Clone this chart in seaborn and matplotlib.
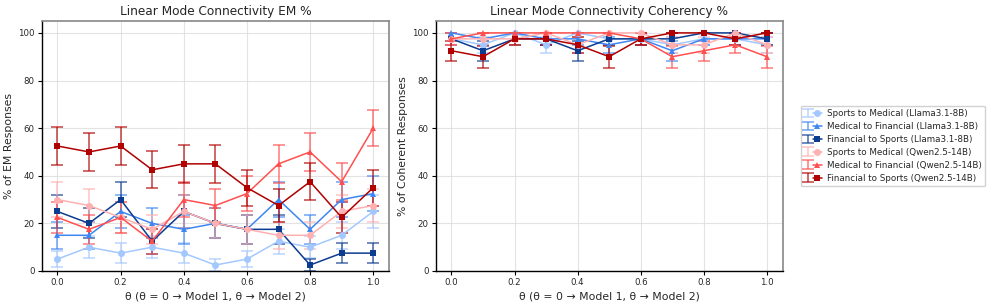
import numpy as np
import pandas as pd
import matplotlib
matplotlib.use('Agg')
import matplotlib.pyplot as plt
from matplotlib.lines import Line2D
from matplotlib.legend_handler import HandlerTuple
import seaborn as sns

# 插值系数
thetas = [0.0, 0.1, 0.2, 0.3, 0.4, 0.5, 0.6, 0.7, 0.8, 0.9, 1.0]

series_names = [
    'Sports to Medical (Llama3.1-8B)',
    'Medical to Financial (Llama3.1-8B)',
    'Financial to Sports (Llama3.1-8B)',
    'Sports to Medical (Qwen2.5-14B)',
    'Medical to Financial (Qwen2.5-14B)',
    'Financial to Sports (Qwen2.5-14B)',
]
colors = ['#a3c8ff', '#3f86f2', '#0c3c8f', '#ffb0b0', '#ff4f4f', '#b00000']
markers = ['o', '^', 's', 'o', '^', 's']

# EM % (左图)
em_sm_llama = [5, 10, 7.5, 10, 7.5, 2.5, 5, 12.5, 10, 15, 25]
em_mf_llama = [15, 15, 25, 20, 17.5, 20, 17.5, 30, 17.5, 30, 32.5]
em_fs_llama = [25, 20, 30, 12.5, 25, 20, 17.5, 17.5, 2.5, 7.5, 7.5]
em_sm_qwen = [30, 27.5, 22.5, 17.5, 25, 20, 17.5, 15, 15, 25, 27.5]
em_mf_qwen = [22.5, 17.5, 22.5, 12.5, 30, 27.5, 32.5, 45, 50, 37.5, 60]
em_fs_qwen = [52.5, 50, 52.5, 42.5, 45, 45, 35, 27.5, 37.5, 22.5, 35]

# EM 误差棒
em_sm_llama_err = [3.4, 4.7, 4.2, 4.7, 4.2, 2.5, 3.4, 5.2, 4.7, 5.6, 6.8]
em_mf_llama_err = [5.6, 5.6, 6.8, 6.3, 6.0, 6.3, 6.0, 7.2, 6.0, 7.2, 7.4]
em_fs_llama_err = [6.8, 6.3, 7.2, 5.2, 6.8, 6.3, 6.0, 6.0, 2.5, 4.2, 4.2]
em_sm_qwen_err = [7.2, 7.1, 6.6, 6.0, 6.8, 6.3, 6.0, 5.6, 5.6, 6.8, 7.1]
em_mf_qwen_err = [6.6, 6.0, 6.6, 5.2, 7.2, 7.1, 7.4, 7.9, 7.9, 7.7, 7.7]
em_fs_qwen_err = [7.9, 7.9, 7.9, 7.8, 7.9, 7.9, 7.5, 7.1, 7.7, 6.6, 7.5]

# Coherency % (右图)
co_sm_llama = [97.5, 95, 100, 95, 100, 97.5, 97.5, 95, 97.5, 97.5, 95]
co_mf_llama = [100, 97.5, 100, 97.5, 97.5, 95, 97.5, 92.5, 97.5, 97.5, 97.5]
co_fs_llama = [97.5, 92.5, 97.5, 97.5, 92.5, 97.5, 97.5, 97.5, 100, 100, 97.5]
co_sm_qwen = [97.5, 97.5, 97.5, 100, 95, 100, 100, 95, 95, 100, 95]
co_mf_qwen = [97.5, 100, 100, 100, 100, 100, 97.5, 90, 92.5, 95, 90]
co_fs_qwen = [92.5, 90, 97.5, 97.5, 95, 90, 97.5, 100, 100, 97.5, 100]

co_sm_llama_err = [2.5, 3.4, 0, 3.4, 0, 2.5, 2.5, 3.4, 2.5, 2.5, 3.4]
co_mf_llama_err = [0, 2.5, 0, 2.5, 2.5, 3.4, 2.5, 4.2, 2.5, 2.5, 2.5]
co_fs_llama_err = [2.5, 4.2, 2.5, 2.5, 4.2, 2.5, 2.5, 2.5, 0, 0, 2.5]
co_sm_qwen_err = [2.5, 2.5, 2.5, 0, 3.4, 0, 0, 3.4, 3.4, 0, 3.4]
co_mf_qwen_err = [2.5, 0, 0, 0, 0, 0, 2.5, 4.7, 4.2, 3.4, 4.7]
co_fs_qwen_err = [4.2, 4.7, 2.5, 2.5, 3.4, 4.7, 2.5, 0, 0, 2.5, 0]

em_values = [em_sm_llama, em_mf_llama, em_fs_llama, em_sm_qwen, em_mf_qwen, em_fs_qwen]
em_errors = [em_sm_llama_err, em_mf_llama_err, em_fs_llama_err,
             em_sm_qwen_err, em_mf_qwen_err, em_fs_qwen_err]
co_values = [co_sm_llama, co_mf_llama, co_fs_llama, co_sm_qwen, co_mf_qwen, co_fs_qwen]
co_errors = [co_sm_llama_err, co_mf_llama_err, co_fs_llama_err,
             co_sm_qwen_err, co_mf_qwen_err, co_fs_qwen_err]


def to_long(values, errors):
    rows = []
    for name, vals, errs in zip(series_names, values, errors):
        for t, v, e in zip(thetas, vals, errs):
            rows.append({'theta': t, 'value': v, 'err': e, 'series': name})
    return pd.DataFrame(rows)


sns.set_style('whitegrid')
plt.rcParams['font.family'] = ['DejaVu Sans']

fig = plt.figure(figsize=(9.97, 3.06), dpi=100)
ax1 = fig.add_axes([0.0418, 0.1144, 0.3484, 0.8170])
ax2 = fig.add_axes([0.4370, 0.1144, 0.3480, 0.8170])

palette = dict(zip(series_names, colors))
marker_map = dict(zip(series_names, markers))

handles = []
for ax, values, errors, title, ylabel in [
    (ax1, em_values, em_errors, 'Linear Mode Connectivity EM %', '% of EM Responses'),
    (ax2, co_values, co_errors, 'Linear Mode Connectivity Coherency %', '% of Coherent Responses'),
]:
    df = to_long(values, errors)
    # 误差棒
    for name in series_names:
        sub = df[df['series'] == name]
        eb = ax.errorbar(sub['theta'], sub['value'], yerr=sub['err'], fmt='none',
                         ecolor=palette[name], alpha=0.75, capsize=4.5,
                         elinewidth=1.1, capthick=1.1, zorder=2)
        if ax is ax1:
            handles.append(eb)
    sns.lineplot(data=df, x='theta', y='value', hue='series', style='series',
                 hue_order=series_names, style_order=series_names,
                 palette=palette, markers=marker_map, dashes=False,
                 markersize=5, markeredgewidth=0, linewidth=1.1,
                 legend=False, ax=ax, zorder=3)

    ax.set_xlim(-0.05, 1.05)
    ax.set_ylim(0, 105)
    ax.set_xticks([0.0, 0.2, 0.4, 0.6, 0.8, 1.0])
    ax.set_yticks([0, 20, 40, 60, 80, 100])
    ax.grid(True, color='#dddddd', linewidth=0.8, alpha=0.8)
    ax.set_title(title, fontsize=8.7, pad=4)
    ax.set_xlabel('θ (θ = 0 → Model 1, θ → Model 2)', fontsize=7.8, labelpad=3)
    ax.set_ylabel(ylabel, fontsize=7.8, labelpad=3)
    ax.tick_params(axis='both', labelsize=6.2, length=3, width=0.8, color='black',
                   bottom=True, left=True, pad=2)
    for side in ['left', 'bottom']:
        ax.spines[side].set_color('black')
        ax.spines[side].set_linewidth(1.0)
    for side in ['top', 'right']:
        ax.spines[side].set_color('#888888')
        ax.spines[side].set_linewidth(1.2)

legend_handles = []
for name, eb in zip(series_names, handles):
    proxy = Line2D([], [], color=palette[name], marker=marker_map[name],
                   markersize=5, markeredgewidth=0, linewidth=1.1)
    legend_handles.append((eb, proxy))

fig.legend(legend_handles, series_names, loc='center left',
           bbox_to_anchor=(0.803, 0.523), fontsize=6.3, frameon=True,
           handler_map={tuple: HandlerTuple(ndivide=None, pad=0)},
           handlelength=2.0, handletextpad=0.6, borderpad=0.4,
           labelspacing=0.45, framealpha=0.9, borderaxespad=0)

fig.savefig('out.png', dpi=100)
